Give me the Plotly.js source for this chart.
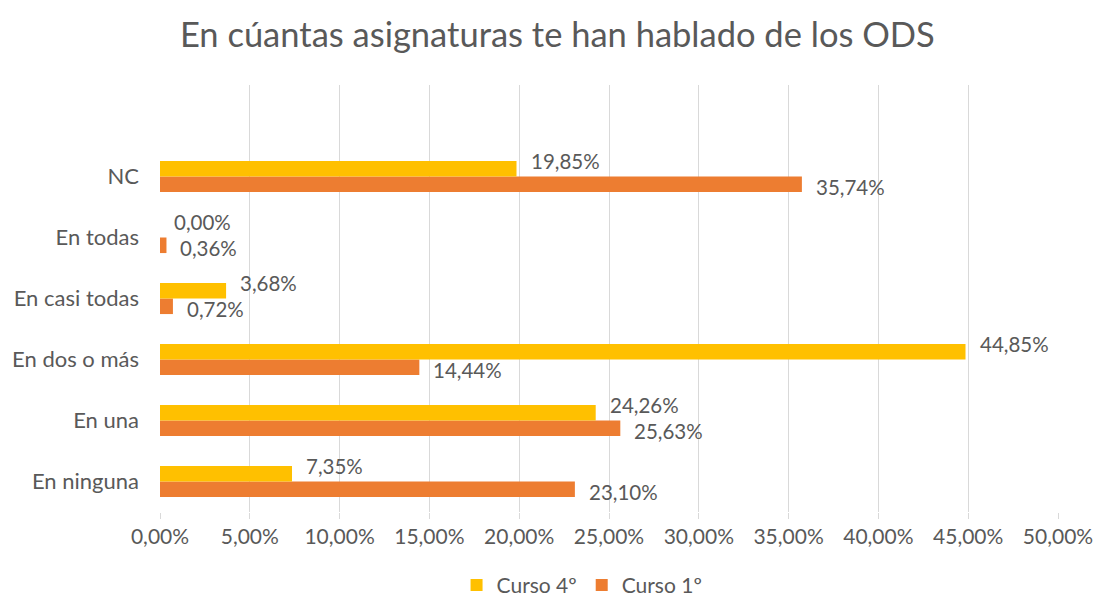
<!DOCTYPE html>
<html>
<head>
<meta charset="utf-8">
<script src="https://cdn.plot.ly/plotly-3.0.1.min.js"></script>
<style>html,body{margin:0;padding:0;background:#fff;}#chart{width:1095px;height:605px;}</style>
</head>
<body>
<div id="chart"></div>
<script>
const categories = ["En ninguna", "En una", "En dos o más", "En casi todas", "En todas", "NC"];
const curso4 = [7.35, 24.26, 44.85, 3.68, 0.00, 19.85];
const curso1 = [23.10, 25.63, 14.44, 0.72, 0.36, 35.74];
const seriesNames = ["Curso 4º", "Curso 1º"];
const tickValues = [0, 5, 10, 15, 20, 25, 30, 35, 40, 45, 50];

const fmt = v => v.toFixed(2).replace('.', ',') + '%';
const FONT = 'Lato, "Open Sans", sans-serif';
const GREY = '#595959';

const traces = [
  {type: 'bar', orientation: 'h', name: seriesNames[1], y: categories, x: curso1,
   marker: {color: '#ED7D31'}, legendrank: 2, hoverinfo: 'x'},
  {type: 'bar', orientation: 'h', name: seriesNames[0], y: categories, x: curso4,
   marker: {color: '#FFC000'}, legendrank: 1, hoverinfo: 'x'}
];

const annotations = [];
categories.forEach((c, i) => {
  annotations.push({x: curso4[i], y: c, text: fmt(curso4[i]), showarrow: false,
    xanchor: 'left', yanchor: 'middle', xshift: 12, yshift: 16,
    font: {family: FONT, size: 20.5, color: GREY}});
  annotations.push({x: curso1[i], y: c, text: fmt(curso1[i]), showarrow: false,
    xanchor: 'left', yanchor: 'middle', xshift: 12, yshift: -10,
    font: {family: FONT, size: 20.5, color: GREY}});
});

const layout = {
  width: 1095, height: 605,
  margin: {l: 160, r: 37, t: 85, b: 93, autoexpand: false},
  paper_bgcolor: '#fff', plot_bgcolor: '#fff',
  title: {text: 'En cúantas asignaturas te han hablado de los ODS',
    x: 0.509, xanchor: 'center', y: 0.943, yanchor: 'middle',
    font: {family: FONT, size: 34.5, color: GREY}},
  barmode: 'group', bargap: 0.49, bargroupgap: 0,
  xaxis: {range: [0, 50], tickvals: tickValues,
    ticktext: tickValues.map(fmt),
    showgrid: true, gridcolor: '#D9D9D9', gridwidth: 1,
    zeroline: false, showline: false,
    ticks: 'outside', ticklen: 6, tickcolor: '#D9D9D9',
    tickfont: {family: FONT, size: 21, color: GREY}, fixedrange: true},
  yaxis: {type: 'category', range: [-0.5, 6.5], showgrid: false, zeroline: false,
    showline: false, ticks: '', ticklabelstandoff: 20,
    tickfont: {family: FONT, size: 22, color: GREY}, fixedrange: true},
  showlegend: true,
  legend: {orientation: 'h', x: 0.47, xanchor: 'center', y: -0.172, yanchor: 'middle',
    font: {family: FONT, size: 21, color: GREY}, itemwidth: 30},
  annotations: annotations
};

Plotly.newPlot('chart', traces, layout, {displayModeBar: false, staticPlot: true});
</script>
</body>
</html>
